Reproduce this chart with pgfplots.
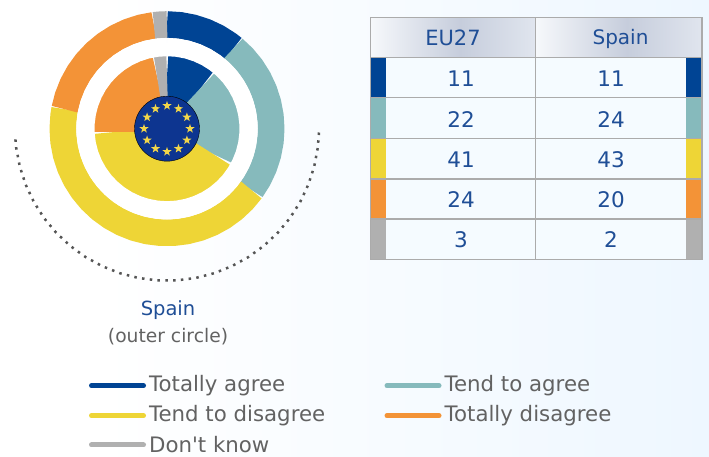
\documentclass[border=0pt]{standalone}
\usepackage{pgfplots}
\pgfplotsset{compat=1.18}
\usepackage{fontspec}
\setmainfont{DejaVu Sans}
\definecolor{cAgree}{HTML}{004494}
\definecolor{cTend}{HTML}{86BABC}
\definecolor{cDis}{HTML}{EED536}
\definecolor{cTot}{HTML}{F39337}
\definecolor{cDk}{HTML}{B0B0B0}
\definecolor{cTxt}{HTML}{1F4E96}
\definecolor{cGrey}{HTML}{626262}
\definecolor{cDot}{HTML}{555555}
\definecolor{cLine}{HTML}{ABABAB}
\definecolor{cFill}{HTML}{F5FBFF}
\definecolor{cBg}{HTML}{EEF7FF}
\definecolor{cHead}{HTML}{C6CDDC}
\definecolor{cEdge}{HTML}{E0E5EE}
\definecolor{cLeft}{HTML}{F6F8FB}
\definecolor{cEU}{HTML}{0D3590}
\definecolor{cStar}{HTML}{F2D64A}
\pgfdeclareplotmark{fstar}{%
  \pgfpathmoveto{\pgfqpointpolar{90}{\pgfplotmarksize}}%
  \pgfpathlineto{\pgfqpointpolar{126}{0.4\pgfplotmarksize}}%
  \pgfpathlineto{\pgfqpointpolar{162}{\pgfplotmarksize}}%
  \pgfpathlineto{\pgfqpointpolar{198}{0.4\pgfplotmarksize}}%
  \pgfpathlineto{\pgfqpointpolar{234}{\pgfplotmarksize}}%
  \pgfpathlineto{\pgfqpointpolar{270}{0.4\pgfplotmarksize}}%
  \pgfpathlineto{\pgfqpointpolar{306}{\pgfplotmarksize}}%
  \pgfpathlineto{\pgfqpointpolar{342}{0.4\pgfplotmarksize}}%
  \pgfpathlineto{\pgfqpointpolar{18}{\pgfplotmarksize}}%
  \pgfpathlineto{\pgfqpointpolar{54}{0.4\pgfplotmarksize}}%
  \pgfpathclose\pgfusepathqfill}
\usepgfplotslibrary{polar}
\begin{document}
\begin{tikzpicture}
\path[use as bounding box] (0pt,0pt) rectangle (709pt,457pt);
\fill[white] (0pt,0pt) rectangle (100pt,457pt);
\fill[left color=white,right color=cBg] (100pt,0pt) rectangle (709pt,457pt);
\begin{polaraxis}[
  at={(167pt,328.3pt)}, anchor=origin,
  scale only axis, width=360pt, height=360pt,
  ymin=0, ymax=180, xmin=0, xmax=360,
  hide axis, clip=false,
  x filter/.expression={90-3.6*x},
  outer/.style={line width=26.7pt, line cap=butt, line join=round},
  inner/.style={line width=41pt, line cap=butt, line join=round},
]
% Spain, outer circle: 11, 24, 43, 20, 2 (cumulative 11, 35, 78, 98, 100)
\addplot[outer,cAgree] coordinates {(0,104.15)(2,104.15)(4,104.15)(6,104.15)(8,104.15)(10,104.15)(11,104.15)};
\addplot[outer,cTend] coordinates {(11,104.15)(13,104.15)(15,104.15)(17,104.15)(19,104.15)(21,104.15)(23,104.15)(25,104.15)(27,104.15)(29,104.15)(31,104.15)(33,104.15)(35,104.15)};
\addplot[outer,cDis] coordinates {(35,104.15)(37,104.15)(39,104.15)(41,104.15)(43,104.15)(45,104.15)(47,104.15)(49,104.15)(51,104.15)(53,104.15)(55,104.15)(57,104.15)(59,104.15)(61,104.15)(63,104.15)(65,104.15)(67,104.15)(69,104.15)(71,104.15)(73,104.15)(75,104.15)(77,104.15)(78,104.15)};
\addplot[outer,cTot] coordinates {(78,104.15)(80,104.15)(82,104.15)(84,104.15)(86,104.15)(88,104.15)(90,104.15)(92,104.15)(94,104.15)(96,104.15)(98,104.15)};
\addplot[outer,cDk] coordinates {(98,104.15)(99,104.15)(100,104.15)};
% EU27, inner circle: 11, 22, 41, 24, 3 (cumulative 11, 33, 74, 97, 100)
\addplot[inner,cAgree] coordinates {(0,52.5)(2,52.5)(4,52.5)(6,52.5)(8,52.5)(10,52.5)(11,52.5)};
\addplot[inner,cTend] coordinates {(11,52.5)(13,52.5)(15,52.5)(17,52.5)(19,52.5)(21,52.5)(23,52.5)(25,52.5)(27,52.5)(29,52.5)(31,52.5)(33,52.5)};
\addplot[inner,cDis] coordinates {(33,52.5)(35,52.5)(37,52.5)(39,52.5)(41,52.5)(43,52.5)(45,52.5)(47,52.5)(49,52.5)(51,52.5)(53,52.5)(55,52.5)(57,52.5)(59,52.5)(61,52.5)(63,52.5)(65,52.5)(67,52.5)(69,52.5)(71,52.5)(73,52.5)(74,52.5)};
\addplot[inner,cTot] coordinates {(74,52.5)(76,52.5)(78,52.5)(80,52.5)(82,52.5)(84,52.5)(86,52.5)(88,52.5)(90,52.5)(92,52.5)(94,52.5)(96,52.5)(97,52.5)};
\addplot[inner,cDk] coordinates {(97,52.5)(98,52.5)(99,52.5)(100,52.5)};
% white gap between the rings
\addplot[white,line width=18.3pt,line cap=butt] coordinates {(0,81.65)(2,81.65)(4,81.65)(6,81.65)(8,81.65)(10,81.65)(12,81.65)(14,81.65)(16,81.65)(18,81.65)(20,81.65)(22,81.65)(24,81.65)(26,81.65)(28,81.65)(30,81.65)(32,81.65)(34,81.65)(36,81.65)(38,81.65)(40,81.65)(42,81.65)(44,81.65)(46,81.65)(48,81.65)(50,81.65)(52,81.65)(54,81.65)(56,81.65)(58,81.65)(60,81.65)(62,81.65)(64,81.65)(66,81.65)(68,81.65)(70,81.65)(72,81.65)(74,81.65)(76,81.65)(78,81.65)(80,81.65)(82,81.65)(84,81.65)(86,81.65)(88,81.65)(90,81.65)(92,81.65)(94,81.65)(96,81.65)(98,81.65)(100,81.65)};
% dotted arc
\addplot[cDot,line width=2.5pt,dash pattern=on 2.5pt off 5.3pt] coordinates {(25.4,152)(27,152)(29,152)(31,152)(33,152)(35,152)(37,152)(39,152)(41,152)(43,152)(45,152)(47,152)(49,152)(51,152)(53,152)(55,152)(57,152)(59,152)(61,152)(63,152)(65,152)(67,152)(69,152)(71,152)(73,152)(74,152)};
% centre flag
\addplot[only marks,mark=*,mark size=32.5pt,mark options={fill=cEU,draw=none}] coordinates {(0,0)};
\addplot[only marks,mark=fstar,mark size=4.8pt,color=cStar,mark options={fill=cStar,draw=none}] coordinates {(0,23)(8.33,23)(16.67,23)(25,23)(33.33,23)(41.67,23)(50,23)(58.33,23)(66.67,23)(75,23)(83.33,23)(91.67,23)};
\end{polaraxis}
\begin{scope}[x=1pt,y=-1pt,yshift=457pt]
% table
\fill[cFill] (370.5,57.5) rectangle (702,259.3);
\fill[left color=cLeft,right color=cHead] (371,18) rectangle (460,57);
\fill[left color=cHead,right color=cEdge] (460,18) rectangle (535,57);
\fill[left color=cLeft,right color=cHead] (536,18) rectangle (627,57);
\fill[left color=cHead,right color=cEdge] (627,18) rectangle (702,57);
\foreach \c/\a/\b in {cAgree/57.8/97.8,cTend/97.8/138.3,cDis/138.3/179,cTot/179/219,cDk/219/259.3}{
  \fill[\c] (371,\a) rectangle (386,\b);
  \fill[\c] (686,\a) rectangle (702,\b);
}
\draw[cLine,line width=1.4pt] (370.5,17.5) rectangle (702,259.3);
\draw[cLine,line width=1.4pt] (535.5,17.5) -- (535.5,259.3);
\foreach \y in {57.8,97.8,138.3,179,219}
  \draw[cLine,line width=1.4pt] (370.5,\y) -- (702,\y);
\tikzset{tv/.style={text=cTxt,font=\fontsize{21.5}{24}\selectfont,anchor=center}}
\node[text=cTxt,font=\fontsize{21}{24}\selectfont] at (453,38.2) {EU27};
\node[text=cTxt,font=\fontsize{20}{24}\selectfont] at (620.5,38.7) {Spain};
\foreach \a/\b [count=\i from 0] in {11/11,22/24,41/43,24/20,3/2}{
  \node[tv] at (461,{79+\i*40.2}) {\a};
  \node[tv] at (611,{79+\i*40.2}) {\b};
}
% caption
\node[text=cTxt,font=\fontsize{19.5}{22}\selectfont] at (168,310.5) {Spain};
\node[text=cGrey,font=\fontsize{18.7}{20}\selectfont] at (168,337) {(outer circle)};
% legend
\foreach \x/\y/\c/\t in {89.5/385.7/cAgree/Totally agree,385/385.7/cTend/Tend to agree,89.5/415.7/cDis/Tend to disagree,385/415.7/cTot/Totally disagree,89.5/445/cDk/Don\textquotesingle t know}{
  \draw[\c,line width=5pt,line cap=round] (\x+2,\y) -- (\x+54,\y);
  \node[text=cGrey,anchor=west,inner sep=0pt,font=\fontsize{21.3}{24}\selectfont] at (\x+59.5,\y) {\t};
}
\end{scope}
\end{tikzpicture}
\end{document}
